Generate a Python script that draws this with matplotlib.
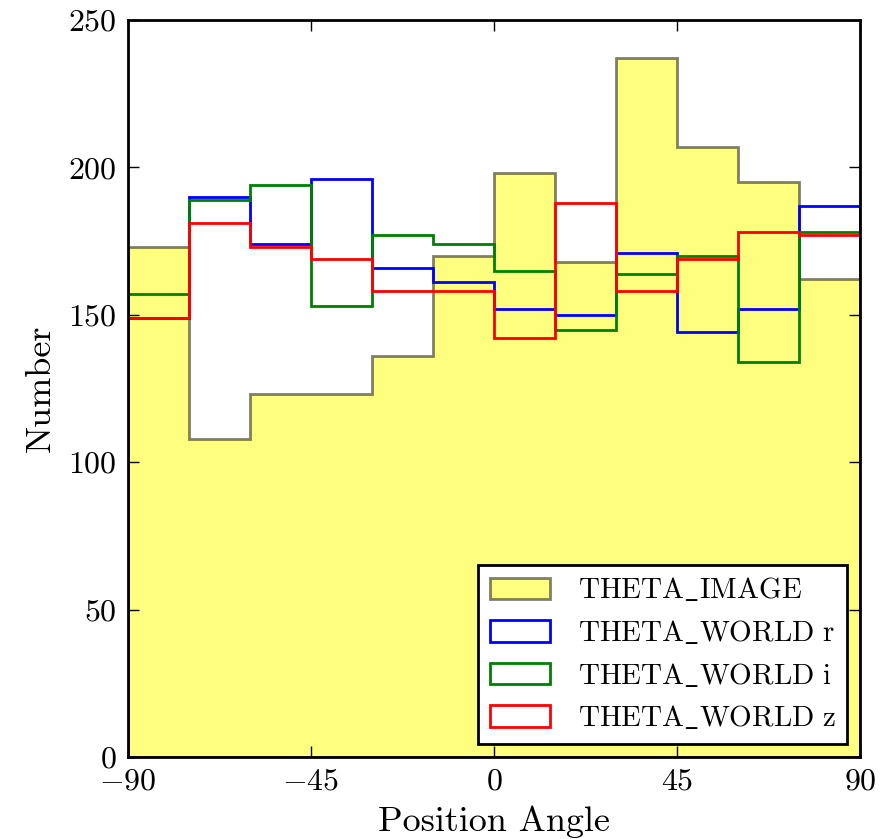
import matplotlib
matplotlib.use("Agg")
import matplotlib.pyplot as plt
import numpy as np

plt.rcParams['font.family'] = 'serif'
plt.rcParams['font.serif'] = ['cmr10']
plt.rcParams['mathtext.fontset'] = 'cm'
plt.rcParams['axes.formatter.use_mathtext'] = True
plt.rcParams['axes.unicode_minus'] = True

# 12 bins of 15 degrees each
bin_edges = np.arange(-90, 91, 15)
bin_centers = bin_edges[:-1] + 7.5

theta_image = [173, 108, 123, 123, 136, 170, 198, 168, 237, 207, 195, 162]
theta_world_r = [149, 190, 174, 196, 166, 161, 152, 150, 171, 144, 152, 187]
theta_world_i = [157, 189, 194, 153, 177, 174, 165, 145, 164, 170, 134, 178]
theta_world_z = [149, 181, 173, 169, 158, 158, 142, 188, 158, 169, 178, 177]

fig = plt.figure(figsize=(8.87, 8.39), dpi=100)
ax = fig.add_axes([0.1443, 0.0977, 0.8253, 0.8785])

ax.hist(bin_centers, bins=bin_edges, weights=theta_image, histtype='stepfilled',
        facecolor=(1, 1, 0, 0.5), edgecolor=(0, 0, 0, 0.5), linewidth=2,
        label=r'$\mathrm{THETA\_IMAGE}$')
ax.hist(bin_centers, bins=bin_edges, weights=theta_world_r, histtype='step',
        color='b', linewidth=2, label=r'$\mathrm{THETA\_WORLD\ r}$')
ax.hist(bin_centers, bins=bin_edges, weights=theta_world_i, histtype='step',
        color='g', linewidth=2, label=r'$\mathrm{THETA\_WORLD\ i}$')
ax.hist(bin_centers, bins=bin_edges, weights=theta_world_z, histtype='step',
        color='r', linewidth=2, label=r'$\mathrm{THETA\_WORLD\ z}$')

ax.set_xlim(-90, 90)
ax.set_ylim(0, 250)
ax.set_xticks([-90, -45, 0, 45, 90])
ax.set_yticks([0, 50, 100, 150, 200, 250])
ax.tick_params(direction='in', length=8, width=1, top=True, right=True,
               labelsize=23, pad=8)
for s in ax.spines.values():
    s.set_linewidth(2)

ax.set_xlabel('Position Angle', fontsize=26, labelpad=7)
ax.set_ylabel('Number', fontsize=26, labelpad=8)

leg = ax.legend(loc='lower right', fontsize=21, fancybox=False, framealpha=1,
                edgecolor='black', handlelength=2.05,
                handleheight=0.75, labelspacing=0.5, handletextpad=0.95,
                borderpad=0.4, borderaxespad=0.45)
leg.get_frame().set_linewidth(2)

fig.savefig('out.png', dpi=100)
